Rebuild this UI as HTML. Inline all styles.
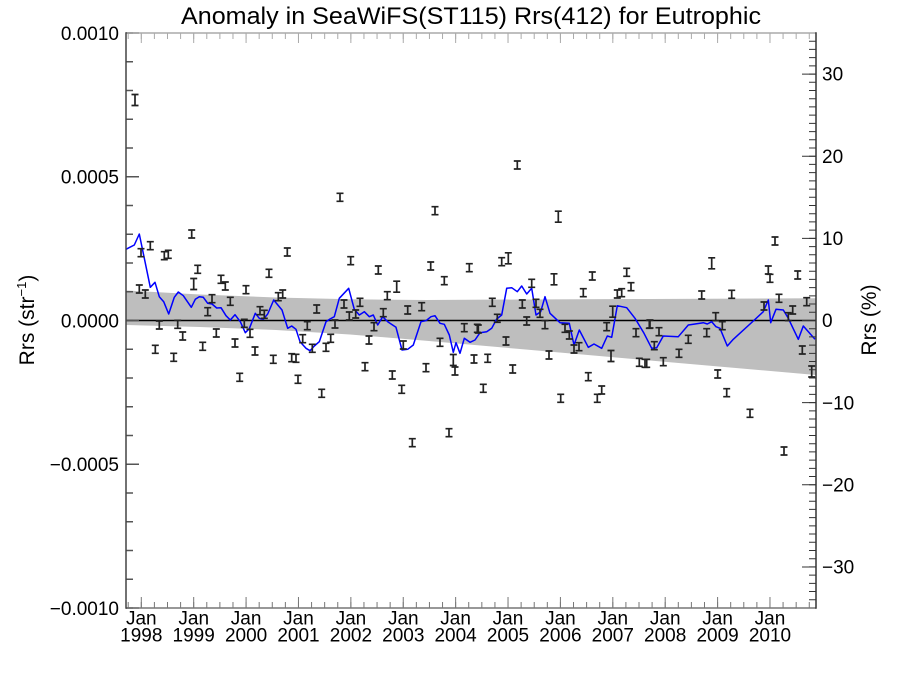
<!DOCTYPE html>
<html>
<head>
<meta charset="utf-8">
<style>
html,body{margin:0;padding:0;background:#fff;}
svg{display:block;}
text{font-family:"Liberation Sans",Arial,Helvetica,sans-serif;fill:#000;}
</style>
</head>
<body>
<svg width="900" height="675" viewBox="0 0 900 675" xmlns="http://www.w3.org/2000/svg">
<defs>
<path id="e" d="M-3.5,-4h7M0,-4v8M-3.5,4h7" fill="none" stroke="#222" stroke-width="1.7"/>
<path id="E" d="M-3.5,-5.5h7M0,-5.5v11M-3.5,5.5h7" fill="none" stroke="#222" stroke-width="1.7"/>
</defs>
<rect width="900" height="675" fill="#fff"/>

<!-- confidence band -->
<polygon fill="#bebebe" points="126,290.5 200,294.5 276,297.5 350,299.3 426,300 520,299.5 650,299 816,298.3 816,375 650,360.5 520,349 426,340.7 350,334.5 276,330 200,327 126,325"/>

<!-- zero line -->
<line x1="126" y1="320.5" x2="816" y2="320.5" stroke="#000" stroke-width="1.5"/>

<!-- blue line -->
<polyline fill="none" stroke="#0000ff" stroke-width="1.5" stroke-linejoin="round" points="126,249.3 134.3,245 139.3,234 150.3,287.3 155,282.3 159.3,296.7 163.7,301.7 168.7,314 174.3,297.3 178.3,292 183.3,295.7 191.3,307.3 195.3,299.3 199.3,296.7 203.3,297.3 207.7,303.3 212,304 216.7,308 221,307.7 226,315.7 230.3,320 235,314.7 240.3,321.7 245.3,332.7 249.3,328.7 255.3,313.3 259.3,318.3 263.3,319.3 267.7,314 273.7,300 282,310 287.7,328.3 291.7,326 296,329.3 300,341.7 306,348.3 310,350.7 314.3,346 319.3,341.7 326,321.7 330,319 334.3,316.7 339.3,298.3 348.7,288.3 354.3,309.3 359.3,315 364.3,311.7 369.3,316.7 373.3,315 377.7,325 382.7,316.7 387.7,321.7 396,327.3 402,350 407.7,349.3 413.3,345 421,321.7 426,320.7 431,316.7 435,315.7 440,323.3 444.3,324.3 449.3,335 453.3,352.3 456,342.7 460,353.3 464.3,338.3 470,342.3 475,340 480,332.7 486.7,331.7 491.7,328.3 496.7,319 501.7,315 506.7,288.3 511.7,287.7 517.3,291.7 521.7,286 526.7,294 531.7,288.3 536,315 540.7,311.7 545,296.7 550,313.3 560,322.7 569.3,323.3 574,345 579.3,330 588.3,347.3 594,344 601.7,348.3 607.3,336 611.7,337.3 617.3,305.7 626.7,307.7 635,318.3 644,333.3 651.7,348.3 656.7,347.7 663.3,336 678.3,336.7 688.3,325 703.3,322.7 707.3,324 711.7,321.7 716,326.7 720,328.3 727.3,346 733.3,339.3 753.3,321 763.3,311.7 768.3,300 770.7,322.7 776,309.3 783.3,310 788.3,318.3 798.3,339.3 803.3,326 815,339.3"/>

<!-- error bars -->
<g>
<use href="#E" x="135" y="100"/>
<use href="#e" x="141" y="252.7"/>
<use href="#e" x="150.3" y="245.7"/>
<use href="#e" x="139.3" y="289"/>
<use href="#e" x="145.3" y="294"/>
<use href="#e" x="159.3" y="325"/>
<use href="#e" x="155.3" y="349.3"/>
<use href="#e" x="164.3" y="255.7"/>
<use href="#e" x="168.3" y="254.3"/>
<use href="#e" x="173.7" y="357.3"/>
<use href="#e" x="177.7" y="324.3"/>
<use href="#e" x="182.7" y="336"/>
<use href="#e" x="191.7" y="234"/>
<use href="#E" x="193.7" y="284"/>
<use href="#e" x="197.7" y="269.3"/>
<use href="#e" x="202.7" y="346.3"/>
<use href="#e" x="207.7" y="311.7"/>
<use href="#e" x="212" y="298.7"/>
<use href="#e" x="216.3" y="333"/>
<use href="#e" x="221" y="279.3"/>
<use href="#e" x="225.3" y="286"/>
<use href="#e" x="230.3" y="301.3"/>
<use href="#e" x="235" y="343"/>
<use href="#e" x="239.7" y="377.3"/>
<use href="#e" x="244.3" y="323.3"/>
<use href="#e" x="246" y="289.7"/>
<use href="#e" x="250" y="333.3"/>
<use href="#e" x="255" y="351"/>
<use href="#e" x="260" y="310.7"/>
<use href="#e" x="264.3" y="314.3"/>
<use href="#e" x="269" y="273.3"/>
<use href="#e" x="273.3" y="359.3"/>
<use href="#e" x="278.3" y="296.7"/>
<use href="#e" x="282.7" y="294"/>
<use href="#e" x="287.3" y="252"/>
<use href="#e" x="291.7" y="357.7"/>
<use href="#e" x="296" y="358.3"/>
<use href="#e" x="298" y="379.3"/>
<use href="#e" x="302.7" y="338.7"/>

<use href="#e" x="340" y="197.3"/>
<use href="#e" x="435" y="210.7"/>
<use href="#e" x="350.7" y="260.7"/>
<use href="#e" x="378.3" y="270"/>
<use href="#e" x="430.7" y="266"/>
<use href="#e" x="469.3" y="267.7"/>
<use href="#e" x="444.3" y="280.7"/>
<use href="#E" x="396.7" y="286.7"/>
<use href="#e" x="387.3" y="295.7"/>
<use href="#e" x="316.7" y="309"/>
<use href="#e" x="344" y="304"/>
<use href="#e" x="360" y="302.3"/>
<use href="#e" x="407.7" y="310"/>
<use href="#e" x="421.7" y="306.7"/>
<use href="#e" x="349.3" y="316"/>
<use href="#e" x="355.7" y="314"/>
<use href="#e" x="383.3" y="312.7"/>
<use href="#e" x="307.3" y="325.7"/>
<use href="#e" x="335" y="324"/>
<use href="#e" x="374" y="326.7"/>
<use href="#e" x="464.3" y="327.7"/>
<use href="#e" x="477.3" y="328.3"/>
<use href="#e" x="330.7" y="338.3"/>
<use href="#e" x="326" y="347.3"/>
<use href="#e" x="312.3" y="348.3"/>
<use href="#e" x="369" y="340"/>
<use href="#e" x="403.3" y="345"/>
<use href="#e" x="440" y="342.3"/>
<use href="#E" x="453.3" y="360"/>
<use href="#e" x="455" y="371"/>
<use href="#e" x="474" y="359"/>
<use href="#e" x="365" y="366.7"/>
<use href="#e" x="392.3" y="375"/>
<use href="#e" x="426" y="367.7"/>
<use href="#e" x="401.7" y="389.3"/>
<use href="#e" x="321.7" y="393.3"/>
<use href="#e" x="449" y="432.7"/>
<use href="#e" x="412.3" y="442.7"/>

<use href="#e" x="517.3" y="165"/>
<use href="#E" x="558.3" y="216.7"/>
<use href="#e" x="501.7" y="261.7"/>
<use href="#E" x="508.3" y="258.3"/>
<use href="#E" x="554" y="279.3"/>
<use href="#e" x="592.3" y="276"/>
<use href="#e" x="626.7" y="272.3"/>
<use href="#e" x="631" y="286.7"/>
<use href="#e" x="617.3" y="294"/>
<use href="#e" x="621.7" y="292.7"/>
<use href="#e" x="531.7" y="283.3"/>
<use href="#e" x="583.3" y="292.7"/>
<use href="#e" x="492.3" y="302.3"/>
<use href="#e" x="522.3" y="304"/>
<use href="#e" x="536" y="303.3"/>
<use href="#E" x="612.7" y="311.7"/>
<use href="#e" x="497.3" y="318.3"/>
<use href="#e" x="526.7" y="321"/>
<use href="#e" x="540" y="313.3"/>
<use href="#e" x="545" y="324.7"/>
<use href="#e" x="478.3" y="329"/>
<use href="#e" x="565" y="328.3"/>
<use href="#e" x="569.3" y="335"/>
<use href="#e" x="606.7" y="326.7"/>
<use href="#e" x="649.3" y="324.3"/>
<use href="#e" x="636" y="332.7"/>
<use href="#e" x="506" y="341"/>
<use href="#e" x="574" y="349"/>
<use href="#e" x="579" y="346.7"/>
<use href="#e" x="549" y="355"/>
<use href="#e" x="487.7" y="358.3"/>
<use href="#E" x="611" y="356"/>
<use href="#e" x="639.3" y="362.3"/>
<use href="#e" x="645" y="363.3"/>
<use href="#e" x="512.7" y="369"/>
<use href="#e" x="588.3" y="376.7"/>
<use href="#e" x="483.3" y="388.3"/>
<use href="#e" x="601.7" y="390"/>
<use href="#e" x="597.3" y="398.3"/>
<use href="#e" x="560.7" y="398.3"/>

<use href="#e" x="775" y="241"/>
<use href="#E" x="711.7" y="263.3"/>
<use href="#e" x="768.3" y="270"/>
<use href="#e" x="770" y="278.3"/>
<use href="#e" x="797.7" y="275"/>
<use href="#e" x="701.7" y="295"/>
<use href="#e" x="731.7" y="294.3"/>
<use href="#e" x="779" y="298.3"/>
<use href="#e" x="806.7" y="301.7"/>
<use href="#e" x="764" y="306"/>
<use href="#e" x="792.7" y="310"/>
<use href="#e" x="788.3" y="316.7"/>
<use href="#e" x="715.7" y="316.7"/>
<use href="#e" x="722.3" y="325.7"/>
<use href="#e" x="650" y="324"/>
<use href="#e" x="659" y="331.7"/>
<use href="#e" x="706.7" y="332.7"/>
<use href="#e" x="688.3" y="339.3"/>
<use href="#e" x="654.3" y="345.7"/>
<use href="#e" x="679" y="353.3"/>
<use href="#e" x="646.7" y="363.3"/>
<use href="#e" x="663.3" y="361.7"/>
<use href="#e" x="802.3" y="350"/>
<use href="#E" x="811.7" y="371.5"/>
<use href="#e" x="717.7" y="374"/>
<use href="#e" x="726.7" y="392.7"/>
<use href="#e" x="750" y="413.3"/>
<use href="#e" x="784" y="451"/>
</g>

<!-- ticks via dash patterns -->
<!-- bottom -->
<line x1="127.7" y1="605" x2="816" y2="605" stroke="#777" stroke-width="6" stroke-dasharray="1 12.0975"/>
<line x1="140.8" y1="602.5" x2="816" y2="602.5" stroke="#777" stroke-width="11" stroke-dasharray="1 51.39"/>
<!-- top -->
<line x1="127.7" y1="36" x2="816" y2="36" stroke="#aaa" stroke-width="6" stroke-dasharray="1 12.0975"/>
<line x1="140.8" y1="38" x2="816" y2="38" stroke="#aaa" stroke-width="10" stroke-dasharray="1 51.39"/>
<!-- left -->
<line x1="129.5" y1="32.25" x2="129.5" y2="609" stroke="#555" stroke-width="7" stroke-dasharray="1.5 27.25"/>
<line x1="132.5" y1="32.25" x2="132.5" y2="609" stroke="#555" stroke-width="13" stroke-dasharray="1.5 142.25"/>
<!-- right -->
<line x1="812.5" y1="32.5" x2="812.5" y2="609" stroke="#333" stroke-width="7" stroke-dasharray="1 7.214"/>
<line x1="809" y1="73.6" x2="809" y2="609" stroke="#333" stroke-width="14" stroke-dasharray="1 81.14"/>

<!-- axes frame -->
<line x1="126" y1="33" x2="816" y2="33" stroke="#aaa" stroke-width="1.5"/>
<line x1="126" y1="608" x2="816" y2="608" stroke="#777" stroke-width="1.5"/>
<line x1="126" y1="32.3" x2="126" y2="608.7" stroke="#444" stroke-width="1.5"/>
<line x1="816" y1="32.3" x2="816" y2="608.7" stroke="#333" stroke-width="1.5"/>

<!-- title -->
<text x="471" y="24" font-size="24" text-anchor="middle" textLength="580" lengthAdjust="spacingAndGlyphs">Anomaly in SeaWiFS(ST115) Rrs(412) for Eutrophic</text>

<!-- left tick labels -->
<g font-size="19" text-anchor="end">
<text x="119" y="40">0.0010</text>
<text x="119" y="183.5">0.0005</text>
<text x="119" y="327.3">0.0000</text>
<text x="119" y="471">−0.0005</text>
<text x="119" y="614.8">−0.0010</text>
</g>

<!-- right tick labels -->
<g font-size="19">
<text x="822" y="80.6">30</text>
<text x="822" y="162.8">20</text>
<text x="822" y="244.9">10</text>
<text x="822" y="327.2">0</text>
<text x="822" y="409.3">−10</text>
<text x="822" y="491.5">−20</text>
<text x="822" y="573.6">−30</text>
</g>

<!-- x labels -->
<g font-size="19" text-anchor="middle">
<text x="141.3" y="624.5">Jan</text><text x="141.3" y="641.5">1998</text>
<text x="193.7" y="624.5">Jan</text><text x="193.7" y="641.5">1999</text>
<text x="246.1" y="624.5">Jan</text><text x="246.1" y="641.5">2000</text>
<text x="298.5" y="624.5">Jan</text><text x="298.5" y="641.5">2001</text>
<text x="350.9" y="624.5">Jan</text><text x="350.9" y="641.5">2002</text>
<text x="403.3" y="624.5">Jan</text><text x="403.3" y="641.5">2003</text>
<text x="455.6" y="624.5">Jan</text><text x="455.6" y="641.5">2004</text>
<text x="508" y="624.5">Jan</text><text x="508" y="641.5">2005</text>
<text x="560.4" y="624.5">Jan</text><text x="560.4" y="641.5">2006</text>
<text x="612.8" y="624.5">Jan</text><text x="612.8" y="641.5">2007</text>
<text x="665.2" y="624.5">Jan</text><text x="665.2" y="641.5">2008</text>
<text x="717.6" y="624.5">Jan</text><text x="717.6" y="641.5">2009</text>
<text x="770" y="624.5">Jan</text><text x="770" y="641.5">2010</text>
</g>

<!-- axis titles -->
<text transform="translate(34,320) rotate(-90)" font-size="21" text-anchor="middle">Rrs (str<tspan font-size="13" dy="-8">−1</tspan><tspan dy="8">)</tspan></text>
<text transform="translate(876,320) rotate(-90)" font-size="21" text-anchor="middle">Rrs (%)</text>
</svg>
</body>
</html>
